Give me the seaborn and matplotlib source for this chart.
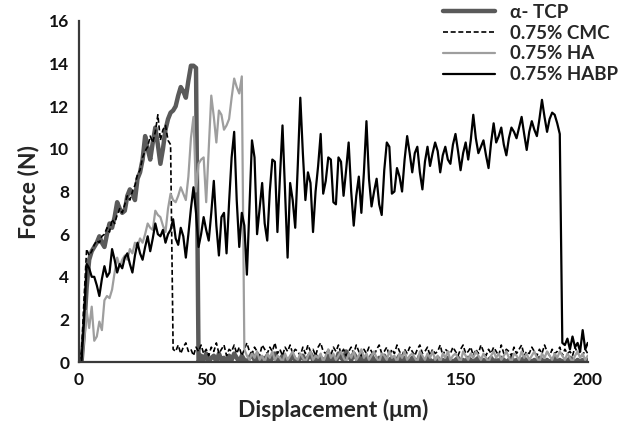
import numpy as np
import pandas as pd
import matplotlib
matplotlib.use("Agg")
import matplotlib.pyplot as plt
import seaborn as sns

labels = ["α- TCP", "0.75% CMC", "0.75% HA", "0.75% HABP"]
x_ticks = [0, 50, 100, 150, 200]
y_ticks = [0, 2, 4, 6, 8, 10, 12, 14, 16]

force_tcp = [
    0, 0, 1.5, 3.5, 4.8, 5.2, 5.4, 5.6, 5.9, 5.6,
    5.4, 6.0, 6.5, 6.3, 6.8, 7.5, 7.2, 7.0, 7.1, 7.8,
    8.1, 7.9, 7.6, 8.6, 8.9, 9.5, 10.6, 10.0, 9.5, 10.3,
    11.0, 10.2, 9.3, 10.0, 10.9, 11.4, 11.7, 11.8, 12.0, 12.5,
    12.9, 12.7, 12.4, 13.2, 13.9, 13.9, 13.8, 0.0,
    0.3, 0.1, 0.4, 0.0, 0.2, 0.3, 0.0, 0.4, 0.1, 0.2,
    0.0, 0.3, 0.1, 0.4, 0.2, 0.0, 0.3, 0.1, 0.0, 0.2,
    0.4, 0.1, 0.3, 0.0, 0.2, 0.1, 0.3, 0.0, 0.2, 0.4,
    0.1, 0.0, 0.3, 0.2, 0.0, 0.1, 0.3, 0.1, 0.0, 0.2,
    0.3, 0.0, 0.2, 0.4, 0.1, 0.3, 0.0, 0.2, 0.1, 0.0,
    0.3, 0.1, 0.2, 0.0, 0.4, 0.2, 0.1, 0.5, 0.3, 0.1,
    0.4, 0.2, 0.0, 0.3, 0.1, 0.2, 0.0, 0.3, 0.1, 0.0,
    0.2, 0.1, 0.3, 0.0, 0.1, 0.2, 0.0, 0.1, 0.3, 0.0,
    0.2, 0.1, 0.0, 0.2, 0.1, 0.0, 0.3, 0.1, 0.0, 0.2,
    0.1, 0.0, 0.1, 0.2, 0.0, 0.1, 0.0, 0.2, 0.1, 0.0,
    0.1, 0.2, 0.0, 0.1, 0.0, 0.2, 0.1, 0.0, 0.1, 0.2,
    0.0, 0.1, 0.0, 0.1, 0.2, 0.0, 0.1, 0.0, 0.2, 0.1,
    0.0, 0.1, 0.2, 0.0, 0.1, 0.0, 0.1, 0.2, 0.0, 0.1,
    0.0, 0.1, 0.0, 0.2, 0.1, 0.0, 0.1, 0.0, 0.1, 0.2,
    0.0, 0.1, 0.0, 0.1, 0.0, 0.2, 0.1, 0.0, 0.1, 0.0,
    0.1, 0.0, 0.1,
]

force_cmc = [
    0, 0.5, 3.0, 5.3, 5.0, 5.2, 5.5, 5.7, 5.6, 5.9,
    6.0, 6.3, 6.1, 6.7, 6.5, 6.9, 7.2, 7.0, 7.4, 7.8,
    7.6, 8.0, 8.3, 8.8, 9.0, 9.6, 9.9, 10.1, 10.6, 10.3,
    10.8, 11.6, 10.4, 10.9, 11.1, 10.4, 10.2, 0.6,
    0.5, 0.8, 0.4, 0.7, 0.9, 0.5, 0.6, 0.3, 0.7, 0.5,
    0.8, 0.4, 0.6, 0.3, 0.7, 0.5, 0.9, 0.4, 0.6, 0.8,
    0.3, 0.6, 0.5, 0.8, 0.4, 0.7, 0.3, 0.6, 0.9, 0.5,
    0.4, 0.7, 0.5, 0.3, 0.8, 0.6, 0.4, 0.7, 0.5, 0.9,
    0.4, 0.6, 0.3, 0.7, 0.5, 0.8, 0.4, 0.6, 0.5, 0.3,
    0.7, 0.4, 0.8, 0.5, 0.6, 0.3, 0.7, 0.9, 0.5, 0.4,
    0.6, 0.3, 0.7, 0.5, 0.8, 0.4, 0.6, 0.3, 0.5, 0.7,
    0.4, 0.8, 0.5, 0.3, 0.6, 0.4, 0.7, 0.5, 0.3, 0.6,
    0.8, 0.4, 0.5, 0.7, 0.3, 0.6, 0.4, 0.8, 0.5, 0.3,
    0.6, 0.4, 0.7, 0.5, 0.3, 0.6, 0.8, 0.4, 0.5, 0.7,
    0.3, 0.6, 0.4, 0.5, 0.8, 0.3, 0.6, 0.5, 0.4, 0.7,
    0.5, 0.3, 0.6, 0.8, 0.4, 0.5, 0.7, 0.3, 0.6, 0.4,
    0.8, 0.5, 0.3, 0.6, 0.4, 0.7, 0.5, 0.3, 0.8, 0.4,
    0.6, 0.5, 0.3, 0.7, 0.4, 0.6, 0.8, 0.3, 0.5, 0.4,
    0.7, 0.5, 0.3, 0.6, 0.4, 0.8, 0.5, 0.3, 0.6, 0.4,
    0.5, 0.7, 0.3, 0.6, 0.4, 0.5, 0.3, 0.7, 0.4, 0.5,
    0.3, 0.6, 0.4,
]

force_ha = [
    0, 0, 1.0, 2.4, 1.6, 2.6, 1.0, 1.2, 1.9, 1.5,
    2.9, 3.1, 3.0, 3.4, 4.2, 4.9, 4.5, 4.8, 5.0, 4.8,
    5.3, 5.1, 5.6, 5.4, 5.8, 5.6, 6.0, 6.5, 6.3, 6.2,
    7.1, 6.9, 6.8, 6.4, 6.1, 7.2, 7.9, 7.6, 7.5, 7.8,
    8.2, 7.9, 7.6, 8.7, 10.5, 11.5, 8.0, 9.3, 9.5, 9.6,
    7.5, 10.0, 12.5, 11.5, 10.3, 11.8, 11.6, 10.9, 11.1, 11.4,
    12.4, 13.3, 12.9, 12.6, 13.4, 0.6,
    0.3, 0.1, 0.4, 0.2, 0.5, 0.1, 0.3, 0.0, 0.4, 0.2,
    0.5, 0.1, 0.3, 0.2, 0.0, 0.4, 0.1, 0.3, 0.5, 0.2,
    0.1, 0.4, 0.2, 0.0, 0.3, 0.5, 0.1, 0.3, 0.2, 0.4,
    0.0, 0.3, 0.6, 0.2, 0.4, 0.1, 0.3, 0.5, 0.2, 0.0,
    0.4, 0.2, 0.5, 0.1, 0.3, 0.6, 0.2, 0.4, 0.1, 0.3,
    0.5, 0.2, 0.0, 0.4, 0.3, 0.1, 0.5, 0.2, 0.3, 0.0,
    0.4, 0.2, 0.5, 0.1, 0.3, 0.4, 0.2, 0.0, 0.5, 0.3,
    0.1, 0.4, 0.2, 0.5, 0.1, 0.3, 0.0, 0.4, 0.2, 0.5,
    0.1, 0.3, 0.4, 0.2, 0.0, 0.5, 0.3, 0.1, 0.4, 0.2,
    0.5, 0.3, 0.1, 0.4, 0.2, 0.0, 0.3, 0.5, 0.2, 0.4,
    0.1, 0.3, 0.5, 0.2, 0.0, 0.4, 0.3, 0.1, 0.5, 0.2,
    0.4, 0.1, 0.3, 0.5, 0.2, 0.0, 0.4, 0.2, 0.5, 0.3,
    0.1, 0.4, 0.2, 0.5, 0.3, 0.1, 0.4, 0.2, 0.0, 0.3,
    0.5, 0.2, 0.4, 0.1, 0.3,
]

force_habp = [
    0, 0, 2.0, 4.6, 4.4, 4.0, 4.0, 3.6, 3.1, 3.9,
    4.5, 4.0, 4.2, 5.3, 4.8, 4.2, 4.6, 4.4, 4.9, 5.1,
    4.6, 4.2, 5.0, 5.6, 5.1, 4.8, 5.4, 5.9, 5.2, 5.8,
    6.5, 6.0, 5.9, 6.2, 5.6, 6.0, 6.2, 6.7, 5.8, 5.5,
    6.3, 5.9, 4.9, 6.0, 7.2, 8.2, 7.0, 5.4, 6.0, 6.8,
    6.2, 5.7, 7.0, 8.5, 6.4, 5.0, 6.8, 7.0, 5.1, 7.5,
    9.6, 10.8, 7.6, 5.4, 7.0, 6.4, 4.1, 7.3, 10.4, 9.6,
    6.0, 7.2, 8.4, 6.5, 5.7, 8.0, 9.5, 9.4, 6.1, 8.7,
    11.1, 8.0, 4.9, 8.4, 7.6, 6.3, 9.2, 12.4, 9.8, 7.6,
    8.9, 8.4, 6.1, 8.0, 9.2, 10.7, 7.9, 8.5, 9.6, 9.5,
    7.5, 7.4, 9.6, 9.4, 7.8, 9.0, 10.3, 8.0, 6.4, 7.8,
    8.7, 7.0, 8.9, 11.3, 8.6, 7.3, 8.0, 8.6, 7.4, 6.9,
    9.0, 10.3, 10.1, 7.9, 8.0, 9.1, 8.7, 8.0, 9.5, 10.6,
    9.8, 8.9, 9.8, 10.1, 8.9, 8.1, 9.4, 10.1, 9.2, 9.8,
    10.3, 9.9, 8.9, 9.7, 10.1, 9.5, 9.3, 10.2, 10.7, 9.9,
    9.0, 9.8, 10.3, 9.5, 10.4, 11.6, 10.5, 9.8, 10.1, 10.4,
    9.7, 9.1, 10.3, 11.2, 10.3, 10.6, 11.0, 10.2, 9.7, 10.5,
    11.0, 10.8, 10.5, 11.0, 11.5, 10.7, 9.95, 10.8, 11.3, 10.9,
    10.6, 11.4, 12.3, 11.5, 10.8, 11.4, 11.7, 11.6, 11.2, 10.7,
    0.9, 0.8, 1.1, 0.6, 1.2, 0.7, 0.9, 0.5, 1.5, 0.6, 0.9,
]

series = [force_tcp, force_cmc, force_ha, force_habp]
colors = ["#5a5a5a", "#000000", "#9e9e9e", "#000000"]
widths = [3.2, 1.2, 1.6, 1.6]
styles = ["-", (0, (3, 1.6)), "-", "-"]

sns.set_style("white")
plt.rcParams["font.family"] = ["Lato", "DejaVu Sans"]
plt.rcParams["font.weight"] = "bold"

fig = plt.figure(figsize=(6.32, 4.28), dpi=100)
ax = fig.add_axes([0.125, 0.154, 0.805, 0.797])

for lab, ys, c, w, ls in zip(labels, series, colors, widths, styles):
    df = pd.DataFrame({"Displacement": np.arange(len(ys)), "Force": ys})
    sns.lineplot(data=df, x="Displacement", y="Force", ax=ax, color=c,
                 linewidth=w, linestyle=ls, label=lab)

ax.set_xlim(0, 200)
ax.set_ylim(0, 16)
ax.set_xticks(x_ticks)
ax.set_yticks(y_ticks)
ax.tick_params(length=0, labelsize=12.5, pad=7, colors="#111111")
for t in ax.get_xticklabels() + ax.get_yticklabels():
    t.set_fontweight("bold")
for s in ["top", "right"]:
    ax.spines[s].set_visible(False)
for s in ["left", "bottom"]:
    ax.spines[s].set_color("#3a3a3a")
    ax.spines[s].set_linewidth(1.6)

ax.set_xlabel("Displacement (μm)", fontsize=16.5, fontweight="bold", labelpad=8)
ax.set_ylabel("Force (N)", fontsize=16.5, fontweight="bold", labelpad=7)

leg = ax.legend(loc="upper left", bbox_to_anchor=(0.715, 1.05), frameon=False,
                borderpad=0, borderaxespad=0, handlelength=2.8,
                handletextpad=0.8, labelspacing=0.2,
                prop={"weight": "bold", "size": 13.5})

fig.savefig("out.png", dpi=100)
